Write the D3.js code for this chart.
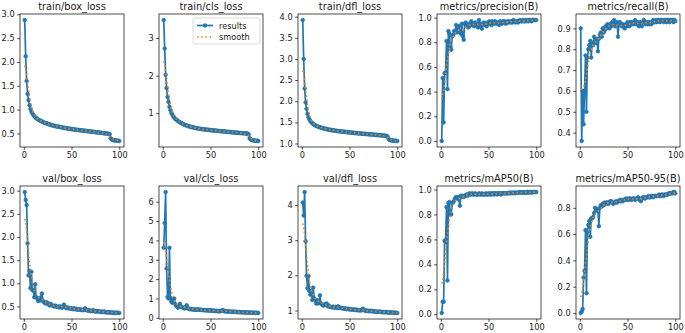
<!DOCTYPE html>
<html>
<head>
<meta charset="utf-8">
<script src="https://cdn.jsdelivr.net/npm/d3@7"></script>
<style>
  body { margin: 0; background: #fff; }
  svg { display: block; font-family: "DejaVu Sans", sans-serif; }
</style>
</head>
<body>
<div class="graph"></div>
<script>
// values, one entry per epoch (1..100)
let epochs = d3.range(1, 101);

let titles = ["train/box_loss", "train/cls_loss", "train/dfl_loss", "metrics/precision(B)", "metrics/recall(B)",
    "val/box_loss", "val/cls_loss", "val/dfl_loss", "metrics/mAP50(B)", "metrics/mAP50-95(B)"];

let trainBox = [2.88, 2.12, 1.60, 1.33, 1.20, 1.09, 1.02, 0.96, 0.92, 0.89,
    0.86, 0.84, 0.82, 0.81, 0.79, 0.78, 0.77, 0.76, 0.75, 0.74,
    0.73, 0.72, 0.715, 0.71, 0.70, 0.695, 0.69, 0.68, 0.675, 0.67,
    0.665, 0.66, 0.655, 0.65, 0.645, 0.64, 0.64, 0.635, 0.63, 0.625,
    0.62, 0.618, 0.615, 0.61, 0.607, 0.605, 0.60, 0.598, 0.595, 0.59,
    0.588, 0.585, 0.582, 0.58, 0.577, 0.575, 0.572, 0.57, 0.567, 0.565,
    0.562, 0.56, 0.557, 0.555, 0.552, 0.55, 0.548, 0.545, 0.543, 0.54,
    0.538, 0.535, 0.533, 0.53, 0.528, 0.525, 0.522, 0.52, 0.518, 0.515,
    0.512, 0.51, 0.507, 0.505, 0.502, 0.50, 0.497, 0.495, 0.49, 0.48,
    0.40, 0.375, 0.365, 0.36, 0.355, 0.352, 0.35, 0.347, 0.345, 0.342];

let trainCls = [3.48, 2.72, 2.02, 1.67, 1.43, 1.30, 1.17, 1.08, 1.01, 0.96,
    0.92, 0.88, 0.85, 0.83, 0.81, 0.79, 0.77, 0.755, 0.74, 0.73,
    0.715, 0.70, 0.69, 0.68, 0.67, 0.66, 0.655, 0.645, 0.64, 0.63,
    0.625, 0.62, 0.612, 0.607, 0.60, 0.597, 0.592, 0.588, 0.583, 0.58,
    0.576, 0.573, 0.57, 0.566, 0.563, 0.56, 0.557, 0.554, 0.551, 0.548,
    0.545, 0.542, 0.54, 0.537, 0.535, 0.532, 0.53, 0.527, 0.524, 0.522,
    0.52, 0.517, 0.515, 0.512, 0.51, 0.507, 0.505, 0.502, 0.50, 0.497,
    0.495, 0.493, 0.49, 0.488, 0.486, 0.483, 0.481, 0.479, 0.477, 0.475,
    0.473, 0.471, 0.469, 0.467, 0.465, 0.463, 0.461, 0.459, 0.456, 0.43,
    0.33, 0.30, 0.29, 0.28, 0.275, 0.27, 0.267, 0.265, 0.262, 0.26];

let trainDfl = [3.92, 3.00, 2.30, 1.97, 1.82, 1.70, 1.62, 1.57, 1.53, 1.50,
    1.48, 1.46, 1.445, 1.43, 1.42, 1.41, 1.40, 1.39, 1.385, 1.375,
    1.37, 1.362, 1.356, 1.35, 1.345, 1.34, 1.335, 1.33, 1.326, 1.322,
    1.318, 1.314, 1.31, 1.306, 1.303, 1.30, 1.297, 1.294, 1.291, 1.288,
    1.285, 1.282, 1.28, 1.277, 1.274, 1.272, 1.27, 1.267, 1.265, 1.262,
    1.26, 1.258, 1.255, 1.253, 1.25, 1.248, 1.246, 1.244, 1.241, 1.239,
    1.237, 1.235, 1.233, 1.231, 1.229, 1.227, 1.225, 1.223, 1.221, 1.219,
    1.217, 1.215, 1.213, 1.211, 1.209, 1.207, 1.205, 1.203, 1.201, 1.199,
    1.197, 1.195, 1.193, 1.19, 1.188, 1.186, 1.184, 1.181, 1.178, 1.16,
    1.10, 1.085, 1.078, 1.074, 1.07, 1.067, 1.065, 1.063, 1.061, 1.06];

let precision = [0.00, 0.51, 0.15, 0.55, 0.55, 0.81, 0.42, 0.89, 0.87, 0.76,
    0.74, 0.85, 0.86, 0.89, 0.88, 0.94, 0.88, 0.90, 0.93, 0.88,
    0.87, 0.95, 0.85, 0.82, 0.95, 0.96, 0.93, 0.95, 0.92, 0.93,
    0.95, 0.97, 0.94, 0.95, 0.93, 0.96, 0.94, 0.95, 0.92, 0.98,
    0.95, 0.93, 0.91, 0.95, 0.96, 0.94, 0.95, 0.93, 0.96, 0.95,
    0.97, 0.96, 0.94, 0.97, 0.96, 0.95, 0.97, 0.96, 0.95, 0.96,
    0.94, 0.97, 0.96, 0.95, 0.97, 0.96, 0.97, 0.95, 0.96, 0.97,
    0.96, 0.97, 0.96, 0.97, 0.96, 0.98, 0.97, 0.96, 0.97, 0.97,
    0.96, 0.97, 0.98, 0.97, 0.97, 0.98, 0.97, 0.97, 0.98, 0.97,
    0.98, 0.97, 0.98, 0.98, 0.97, 0.98, 0.98, 0.98, 0.98, 0.98];

let recall = [0.90, 0.36, 0.60, 0.44, 0.60, 0.77, 0.50, 0.76, 0.80, 0.82,
    0.84, 0.76, 0.83, 0.82, 0.86, 0.84, 0.83, 0.85, 0.79, 0.85,
    0.87, 0.88, 0.86, 0.90, 0.88, 0.89, 0.91, 0.90, 0.92, 0.91,
    0.90, 0.92, 0.91, 0.93, 0.92, 0.94, 0.91, 0.92, 0.93, 0.86,
    0.92, 0.93, 0.92, 0.91, 0.92, 0.91, 0.90, 0.92, 0.91, 0.93,
    0.92, 0.91, 0.93, 0.92, 0.93, 0.92, 0.93, 0.94, 0.92, 0.93,
    0.92, 0.91, 0.93, 0.92, 0.91, 0.93, 0.94, 0.93, 0.92, 0.93,
    0.92, 0.93, 0.92, 0.93, 0.92, 0.93, 0.94, 0.93, 0.93, 0.94,
    0.93, 0.94, 0.94, 0.93, 0.94, 0.94, 0.94, 0.93, 0.94, 0.94,
    0.93, 0.94, 0.94, 0.93, 0.94, 0.94, 0.94, 0.93, 0.94, 0.935];

let valBox = [2.97, 2.80, 2.69, 1.86, 1.17, 1.27, 0.90, 1.25, 0.86, 0.84,
    0.70, 0.98, 0.70, 0.68, 0.62, 0.68, 0.63, 0.70, 0.78, 0.62,
    0.60, 0.58, 0.56, 0.59, 0.57, 0.55, 0.52, 0.56, 0.53, 0.52,
    0.51, 0.50, 0.52, 0.50, 0.49, 0.50, 0.48, 0.50, 0.49, 0.47,
    0.50, 0.54, 0.49, 0.47, 0.48, 0.46, 0.47, 0.46, 0.45, 0.46,
    0.45, 0.44, 0.46, 0.44, 0.45, 0.43, 0.44, 0.43, 0.44, 0.43,
    0.42, 0.43, 0.42, 0.46, 0.43, 0.42, 0.41, 0.42, 0.41, 0.40,
    0.41, 0.40, 0.42, 0.40, 0.39, 0.40, 0.39, 0.40, 0.39, 0.39,
    0.38, 0.39, 0.38, 0.39, 0.38, 0.37, 0.38, 0.37, 0.38, 0.37,
    0.37, 0.37, 0.36, 0.37, 0.36, 0.36, 0.37, 0.36, 0.36, 0.36];

let valCls = [3.62, 4.90, 6.50, 2.55, 1.07, 1.00, 3.62, 1.02, 0.85, 0.78,
    0.95, 1.00, 0.72, 0.62, 0.58, 0.52, 0.62, 0.72, 0.60, 0.55,
    0.53, 0.50, 0.48, 0.55, 0.65, 0.50, 0.47, 0.45, 0.46, 0.44,
    0.43, 0.44, 0.42, 0.43, 0.41, 0.42, 0.44, 0.41, 0.42, 0.40,
    0.41, 0.40, 0.39, 0.40, 0.39, 0.38, 0.39, 0.38, 0.37, 0.40,
    0.37, 0.36, 0.37, 0.36, 0.35, 0.36, 0.35, 0.34, 0.35, 0.34,
    0.35, 0.38, 0.40, 0.35, 0.33, 0.34, 0.33, 0.32, 0.33, 0.32,
    0.32, 0.31, 0.32, 0.31, 0.30, 0.31, 0.30, 0.30, 0.29, 0.30,
    0.29, 0.29, 0.28, 0.29, 0.28, 0.28, 0.27, 0.28, 0.27, 0.27,
    0.27, 0.26, 0.27, 0.26, 0.26, 0.26, 0.25, 0.26, 0.25, 0.25];

let valDfl = [4.07, 3.70, 4.37, 2.97, 1.99, 1.63, 1.98, 1.55, 1.45, 1.55,
    1.30, 1.65, 1.35, 1.30, 1.20, 1.30, 1.20, 1.25, 1.43, 1.20,
    1.18, 1.15, 1.14, 1.18, 1.16, 1.20, 1.12, 1.15, 1.11, 1.10,
    1.10, 1.09, 1.11, 1.08, 1.10, 1.09, 1.07, 1.12, 1.08, 1.07,
    1.08, 1.06, 1.07, 1.05, 1.06, 1.05, 1.04, 1.05, 1.04, 1.03,
    1.04, 1.03, 1.02, 1.03, 1.02, 1.03, 1.01, 1.02, 1.01, 1.00,
    1.01, 1.00, 1.02, 1.05, 1.01, 1.00, 0.99, 1.00, 0.99, 0.98,
    0.99, 0.98, 0.99, 0.98, 0.97, 0.98, 0.97, 0.96, 0.97, 0.96,
    0.96, 0.97, 0.96, 0.95, 0.96, 0.95, 0.95, 0.96, 0.95, 0.94,
    0.95, 0.94, 0.94, 0.95, 0.94, 0.94, 0.93, 0.94, 0.93, 0.93];

let map50 = [0.01, 0.10, 0.10, 0.59, 0.58, 0.86, 0.27, 0.89, 0.90, 0.80,
    0.80, 0.89, 0.90, 0.91, 0.93, 0.94, 0.93, 0.94, 0.92, 0.87,
    0.95, 0.94, 0.95, 0.94, 0.95, 0.95, 0.96, 0.95, 0.96, 0.97,
    0.96, 0.96, 0.97, 0.96, 0.96, 0.97, 0.96, 0.96, 0.96, 0.97,
    0.96, 0.96, 0.97, 0.96, 0.96, 0.96, 0.97, 0.96, 0.96, 0.97,
    0.96, 0.97, 0.96, 0.97, 0.97, 0.96, 0.97, 0.97, 0.96, 0.97,
    0.97, 0.97, 0.96, 0.97, 0.97, 0.97, 0.97, 0.97, 0.97, 0.97,
    0.97, 0.975, 0.97, 0.975, 0.97, 0.975, 0.975, 0.97, 0.975, 0.975,
    0.975, 0.975, 0.98, 0.975, 0.975, 0.98, 0.975, 0.975, 0.98, 0.975,
    0.98, 0.975, 0.98, 0.98, 0.975, 0.98, 0.98, 0.98, 0.98, 0.98];

let map5095 = [0.00, 0.01, 0.03, 0.27, 0.32, 0.63, 0.15, 0.61, 0.67, 0.70,
    0.58, 0.72, 0.72, 0.73, 0.76, 0.80, 0.78, 0.79, 0.78, 0.66,
    0.80, 0.82, 0.81, 0.83, 0.82, 0.84, 0.83, 0.84, 0.84, 0.83,
    0.84, 0.85, 0.85, 0.84, 0.83, 0.84, 0.84, 0.85, 0.84, 0.85,
    0.85, 0.86, 0.85, 0.86, 0.85, 0.86, 0.86, 0.87, 0.86, 0.87,
    0.86, 0.87, 0.87, 0.86, 0.87, 0.87, 0.87, 0.86, 0.87, 0.87,
    0.88, 0.87, 0.86, 0.85, 0.87, 0.88, 0.88, 0.87, 0.88, 0.88,
    0.88, 0.89, 0.88, 0.88, 0.89, 0.89, 0.88, 0.89, 0.89, 0.89,
    0.89, 0.89, 0.90, 0.89, 0.89, 0.90, 0.90, 0.89, 0.90, 0.90,
    0.90, 0.90, 0.91, 0.91, 0.91, 0.91, 0.91, 0.92, 0.92, 0.91];

let series = [trainBox, trainCls, trainDfl, precision, recall, valBox, valCls, valDfl, map50, map5095];

let yTicks = [
    [0.5, 1.0, 1.5, 2.0, 2.5, 3.0],
    [1, 2, 3],
    [1.0, 1.5, 2.0, 2.5, 3.0, 3.5, 4.0],
    [0.0, 0.2, 0.4, 0.6, 0.8, 1.0],
    [0.4, 0.5, 0.6, 0.7, 0.8, 0.9],
    [0.5, 1.0, 1.5, 2.0, 2.5, 3.0],
    [0, 1, 2, 3, 4, 5, 6],
    [1, 2, 3, 4],
    [0.0, 0.2, 0.4, 0.6, 0.8, 1.0],
    [0.0, 0.2, 0.4, 0.6, 0.8]
];
let yDecimals = [1, 0, 1, 1, 1, 1, 0, 0, 1, 1];
let xTicks = [0, 50, 100];

// scipy gaussian_filter1d(sigma=3), mode "reflect"
let gaussSmooth = (y, sigma) => {
    let r = Math.round(4 * sigma);
    let w = d3.range(-r, r + 1).map(k => Math.exp(-0.5 * k * k / (sigma * sigma)));
    let s = d3.sum(w);
    w = w.map(v => v / s);
    let n = y.length;
    let at = i => {
        while (i < 0 || i >= n) {
            if (i < 0) i = -i - 1;
            if (i >= n) i = 2 * n - i - 1;
        }
        return y[i];
    };
    return y.map((d, i) => d3.sum(w, (wk, k) => wk * at(i + k - r)));
};

let W = 685, H = 333;
let panelW = 104, panelH = 133;
let lefts = [20, 159, 298, 437, 576];
let tops = [14, 186];
let blue = "#1f77b4", orange = "#ff7f0e";
let tickFont = "8.2px", titleFont = "9.8px";

let svg = d3.select(".graph").append("svg")
    .attr("width", W).attr("height", H);

series.forEach((vals, idx) => {
    let smooth = gaussSmooth(vals, 3);
    let px = lefts[idx % 5], py = tops[Math.floor(idx / 5)];

    let lo = Math.min(d3.min(vals), d3.min(smooth)), hi = Math.max(d3.max(vals), d3.max(smooth));
    let pad = (hi - lo) * 0.05;
    let x = d3.scaleLinear().domain([1 - 4.95, 100 + 4.95]).range([0, panelW]);
    let y = d3.scaleLinear().domain([lo - pad, hi + pad]).range([panelH, 0]);

    let g = svg.append("g").attr("transform", "translate(" + px + "," + py + ")");

    g.append("defs").append("clipPath").attr("id", "clip" + idx)
        .append("rect").attr("width", panelW).attr("height", panelH);

    let line = d3.line().x((d, i) => x(epochs[i])).y(d => y(d));

    let plot = g.append("g").attr("clip-path", "url(#clip" + idx + ")");
    plot.append("path").datum(vals)
        .attr("d", line)
        .attr("fill", "none").attr("stroke", blue).attr("stroke-width", 1.7)
        .attr("stroke-linejoin", "round");
    plot.selectAll("circle").data(vals).join("circle")
        .attr("cx", (d, i) => x(epochs[i])).attr("cy", d => y(d))
        .attr("r", 1.8).attr("fill", blue).attr("stroke", blue).attr("stroke-width", 0.8);
    plot.append("path").datum(smooth)
        .attr("d", line)
        .attr("fill", "none").attr("stroke", orange).attr("stroke-width", 1.6)
        .attr("stroke-dasharray", "1.6,2.6");

    let fmt = d3.format("." + yDecimals[idx] + "f");
    let yAxis = g.append("g")
        .call(d3.axisLeft(y).tickValues(yTicks[idx]).tickSize(2.8).tickPadding(2.6).tickFormat(fmt));
    let xAxis = g.append("g").attr("transform", "translate(0," + panelH + ")")
        .call(d3.axisBottom(x).tickValues(xTicks).tickSize(2.8).tickPadding(2.6));
    [yAxis, xAxis].forEach(a => {
        a.select(".domain").remove();
        a.selectAll("line").attr("stroke", "#000").attr("stroke-width", 0.7);
        a.selectAll("text").attr("fill", "#1a1a1a").style("font-size", tickFont)
            .style("font-family", "'DejaVu Sans', sans-serif");
    });

    g.append("rect").attr("width", panelW).attr("height", panelH)
        .attr("fill", "none").attr("stroke", "#000").attr("stroke-width", 0.7);

    g.append("text").attr("x", panelW / 2).attr("y", -4.3)
        .attr("text-anchor", "middle").attr("fill", "#1a1a1a")
        .style("font-size", titleFont).text(titles[idx]);

    if (idx === 1) {
        let lg = g.append("g").attr("transform", "translate(" + (panelW - 70) + ",4)");
        lg.append("rect").attr("width", 67).attr("height", 26).attr("rx", 2)
            .attr("fill", "#fff").attr("fill-opacity", 0.8)
            .attr("stroke", "#ccc").attr("stroke-width", 0.7);
        lg.append("line").attr("x1", 4).attr("x2", 20).attr("y1", 7.5).attr("y2", 7.5)
            .attr("stroke", blue).attr("stroke-width", 1.7);
        lg.append("circle").attr("cx", 12).attr("cy", 7.5).attr("r", 1.8)
            .attr("fill", blue).attr("stroke", blue).attr("stroke-width", 0.8);
        lg.append("line").attr("x1", 4).attr("x2", 20).attr("y1", 19).attr("y2", 19)
            .attr("stroke", orange).attr("stroke-width", 1.6).attr("stroke-dasharray", "1.6,2.6");
        lg.append("text").attr("x", 26).attr("y", 10.5).attr("fill", "#1a1a1a")
            .style("font-size", tickFont).text("results");
        lg.append("text").attr("x", 26).attr("y", 22).attr("fill", "#1a1a1a")
            .style("font-size", tickFont).text("smooth");
    }
});
</script>
</body>
</html>
